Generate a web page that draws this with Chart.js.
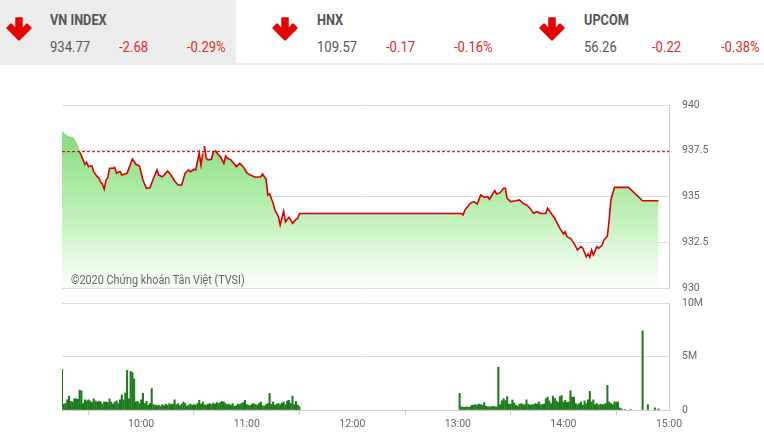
<!DOCTYPE html>
<html>
<head>
<meta charset="utf-8">
<script src="https://cdn.jsdelivr.net/npm/chart.js@4.4.1/dist/chart.umd.min.js"></script>
<style>
  body { margin: 0; width: 764px; height: 445px; background: #fff; font-family: Roboto, "Noto Sans", sans-serif; position: relative; overflow: hidden; }
  .panel { position: absolute; left: 0; top: 0; width: 236px; height: 63px; background: #ececec; }
  .sep { position: absolute; left: 0; top: 63px; width: 764px; height: 2px; background: #ededed; }
  .arrow { position: absolute; top: 17px; width: 26px; height: 24px; }
  .t { position: absolute; white-space: nowrap; transform-origin: left top; }
  .name { top: 13px; font-size: 15.5px; line-height: 15.5px; font-weight: bold; color: #555; transform: scaleX(0.82); }
  .val { top: 41px; font-size: 14.5px; line-height: 14.5px; color: #555; transform: scaleX(0.9); }
  .red { color: #dc2b2b; }
  .wm { position: absolute; left: 71px; top: 273px; font-size: 12px; line-height: 14px; color: #666; transform: scaleX(0.9); transform-origin: left top; }
  canvas { position: absolute; left: 0; }
</style>
</head>
<body>
<div class="panel"></div>
<div class="sep"></div>

<svg class="arrow" style="left:6px" viewBox="0 0 26 24"><path d="M10 1 H16 V12 L21 7 L25 11 L13 23 L1 11 L5 7 L10 12 Z" fill="#e60000" stroke="#e60000" stroke-width="1.5" stroke-linejoin="round"/></svg>
<svg class="arrow" style="left:272px" viewBox="0 0 26 24"><path d="M10 1 H16 V12 L21 7 L25 11 L13 23 L1 11 L5 7 L10 12 Z" fill="#e60000" stroke="#e60000" stroke-width="1.5" stroke-linejoin="round"/></svg>
<svg class="arrow" style="left:539px" viewBox="0 0 26 24"><path d="M10 1 H16 V12 L21 7 L25 11 L13 23 L1 11 L5 7 L10 12 Z" fill="#e60000" stroke="#e60000" stroke-width="1.5" stroke-linejoin="round"/></svg>

<div class="t name" style="left:50px">VN INDEX</div>
<div class="t val" style="left:50px">934.77</div>
<div class="t val red" style="left:119px">-2.68</div>
<div class="t val red" style="left:187px">-0.29%</div>

<div class="t name" style="left:317px">HNX</div>
<div class="t val" style="left:317px">109.57</div>
<div class="t val red" style="left:386px">-0.17</div>
<div class="t val red" style="left:454px">-0.16%</div>

<div class="t name" style="left:584px">UPCOM</div>
<div class="t val" style="left:584px">56.26</div>
<div class="t val red" style="left:652px">-0.22</div>
<div class="t val red" style="left:721px">-0.38%</div>

<canvas id="priceChart" width="764" height="200" style="top:95px"></canvas>
<canvas id="volChart" width="764" height="150" style="top:295px"></canvas>
<div class="wm">©2020 Chứng khoán Tân Việt (TVSI)</div>

<script>
// price line (VN-Index)
const priceTimes = [
  '9:15','9:18','9:21','9:23','9:25','9:26','9:28','9:29','9:30','9:32','9:33','9:35','9:36','9:37','9:38','9:39',
  '9:40','9:41','9:42','9:44','9:45','9:46','9:48','9:49','9:52','9:55','9:57','9:59',
  '10:01','10:03','10:05','10:07','10:09','10:10','10:12','10:13','10:15','10:17','10:19','10:21','10:23','10:25',
  '10:27','10:28','10:30','10:31','10:33','10:34','10:35','10:36','10:37','10:38','10:40','10:41','10:42','10:44',
  '10:45','10:46','10:47','10:48','10:49','10:51','10:53','10:54','10:56','10:58',
  '11:00','11:02','11:05','11:08','11:09','11:11','11:12','11:13','11:15','11:16','11:18','11:19','11:21','11:22',
  '11:24','11:25','11:26','11:28','11:29','11:30',
  '13:00','13:02','13:03','13:04','13:07','13:09','13:11','13:13','13:15','13:17','13:18','13:20','13:21','13:22',
  '13:24','13:26','13:27','13:28','13:30','13:33','13:35','13:37','13:39','13:41','13:43','13:45','13:47','13:50',
  '13:51','13:53','13:55','13:57','13:58',
  '14:00','14:01','14:02','14:04','14:06','14:08','14:10','14:11','14:13','14:14','14:15','14:16','14:17','14:19',
  '14:20','14:22','14:23','14:25','14:26','14:27','14:29','14:37','14:45','14:54'
];
const priceValues = [
  938.5,938.27,938.2,937.9,937.42,937.23,936.76,936.87,936.63,936.68,936.36,936.08,936.0,935.78,935.67,935.41,
  935.9,936.03,936.54,936.54,936.58,936.27,936.36,936.17,936.27,937.05,936.76,936.68,
  935.9,935.45,935.48,936.0,936.45,936.17,936.08,936.17,936.39,936.17,935.85,935.63,935.63,936.27,
  936.45,936.36,936.49,936.45,937.36,936.72,937.36,937.76,937.09,937.0,937.03,937.46,937.51,937.27,
  937.18,937.0,936.81,937.21,937.09,937.0,936.78,936.63,936.81,936.63,
  936.3,936.17,936.05,936.08,936.23,935.94,935.08,935.14,934.63,934.26,933.9,933.44,934.19,933.62,
  933.86,933.72,933.53,933.75,933.81,934.07,
  934.07,934.07,933.99,934.26,934.63,934.72,934.59,935.08,934.96,934.99,934.85,935.17,935.32,935.14,
  935.21,935.45,935.45,934.9,934.72,934.77,934.81,934.63,934.54,934.36,934.08,934.17,934.08,934.07,
  934.36,934.08,933.81,933.44,933.26,
  932.95,933.08,932.8,932.71,932.44,932.08,932.26,932.17,931.71,931.86,931.68,932.08,931.8,932.26,
  932.17,932.35,932.62,932.84,933.72,934.81,935.5,935.5,934.77,934.77
];
const refPrice = 937.45; // previous close

// volume in millions, one bar per minute
const volMorningStart = '9:15';
const volMorning = [
  3.8,0.55,0.6,0.95,1.3,0.8,0.75,1.05,1.05,1.0,
  1.85,1.8,0.6,0.95,0.85,0.95,0.85,0.7,1.05,0.85,
  0.75,0.8,0.75,0.55,0.75,0.75,0.7,1.05,0.75,0.55,
  0.75,0.85,0.6,0.95,1.4,0.95,1.6,3.7,1.05,3.6,
  3.5,2.9,0.75,0.8,0.6,0.95,1.55,0.6,0.8,0.45,
  0.6,2.0,0.5,0.45,0.4,0.45,0.35,0.5,0.4,0.55,
  0.45,0.6,0.5,0.55,0.95,0.5,0.6,0.4,0.55,0.75,
  0.6,0.35,0.45,0.55,0.45,0.5,0.45,0.6,0.9,0.55,
  0.75,0.5,0.45,0.55,0.6,0.5,0.65,0.55,0.7,0.6,
  0.7,0.8,0.75,0.6,0.5,0.55,0.45,0.6,0.35,0.4,
  0.55,0.5,0.6,0.7,0.9,0.5,0.45,0.4,0.55,0.6,
  0.5,0.45,0.6,0.75,0.4,0.35,0.5,0.6,1.55,0.55,
  0.75,0.45,0.55,0.6,0.5,0.65,0.75,0.5,0.85,0.9,
  0.6,1.3,0.5,0.8,0.45,0.3
];
const volAfternoonStart = '13:01';
const volAfternoon = [
  1.55,0.3,0.25,0.25,0.3,0.25,0.3,0.45,0.45,0.5,
  0.45,0.55,0.5,0.45,0.7,0.35,0.3,0.3,0.3,0.35,
  0.3,0.3,4.0,0.5,0.87,1.06,0.87,1.25,0.55,0.55,
  0.93,0.65,0.45,0.35,0.55,0.6,0.5,0.5,0.95,0.55,
  0.45,0.5,0.5,0.6,0.55,0.75,0.5,0.5,0.55,1.05,
  1.2,0.85,0.6,1.3,1.1,0.85,0.7,1.25,1.35,0.75,
  0.9,0.7,0.75,1.8,1.2,1.2,0.6,0.5,0.6,0.75,
  0.45,0.85,0.6,0.95,1.75,0.75,0.95,0.5,0.6,0.45,
  0.55,0.5,0.5,0.6,2.3,0.75,0.6,0.5,0.75,0.75,
  0.75,0.2,0.1
];
const volLateTimes = ['14:35','14:38','14:45','14:48','14:52','14:54'];
const volLate = [0.05,0.05,7.4,0.5,0.2,0.1];

const xTicks = ['10:00','11:00','12:00','13:00','14:00','15:00'];
const priceTicks = [930, 932.5, 935, 937.5, 940];
const volTicks = [0, 5, 10];
const xStart = '9:15', xEnd = '15:00';

function toMin(s) {
  const p = s.split(':');
  return parseInt(p[0]) * 60 + parseInt(p[1]);
}
function fmtMin(m) {
  const h = Math.floor(m / 60), mm = m % 60;
  return (h < 10 ? '0' : '') + h + ':' + (mm < 10 ? '0' : '') + mm;
}

const pricePts = priceTimes.map((t, i) => ({ x: toMin(t), y: priceValues[i] }));
const volPts = [];
volMorning.forEach((v, i) => volPts.push({ x: toMin(volMorningStart) + i, y: v }));
volAfternoon.forEach((v, i) => volPts.push({ x: toMin(volAfternoonStart) + i, y: v }));
volLate.forEach((v, i) => volPts.push({ x: toMin(volLateTimes[i]), y: v }));

const font = { family: 'Roboto', size: 10.5 };
const RED = '#d60000';
const GREEN_LINE = 'rgb(135,215,125)';

// right axis: fixed width, no extra vertical padding from tick padding
function fitRight(s) {
  s.width = 95;
  s.paddingTop = 0;
  s.paddingBottom = 0;
}

// price chart
new Chart(document.getElementById('priceChart').getContext('2d'), {
  type: 'line',
  data: {
    datasets: [
      {
        // reference line (previous close)
        data: [{ x: toMin(xStart), y: refPrice }, { x: toMin(xEnd), y: refPrice }],
        borderColor: '#b40000',
        borderWidth: 1,
        borderDash: [3, 2],
        pointRadius: 0,
        fill: false,
        order: 0
      },
      {
        data: pricePts,
        borderWidth: 1.6,
        borderColor: RED,
        pointRadius: 0,
        tension: 0,
        fill: false,
        order: 1,
        segment: {
          borderColor: c => (c.p0.parsed.y + c.p1.parsed.y) / 2 > refPrice ? GREEN_LINE : RED
        }
      },
      {
        // area under the index
        data: pricePts,
        borderWidth: 0,
        pointRadius: 0,
        tension: 0,
        fill: 'start',
        order: 2,
        backgroundColor: c => {
          const a = c.chart.chartArea;
          if (!a) return 'rgba(0,0,0,0)';
          const g = c.chart.ctx.createLinearGradient(0, a.top, 0, a.bottom);
          g.addColorStop(0, 'rgb(118,212,108)');
          g.addColorStop(0.5, 'rgb(178,236,170)');
          g.addColorStop(1, 'rgb(252,255,252)');
          return g;
        }
      }
    ]
  },
  options: {
    responsive: false,
    animation: false,
    layout: { padding: { left: 62, top: 10, bottom: 7, right: 0 } },
    plugins: { legend: { display: false }, tooltip: { enabled: false } },
    scales: {
      x: { type: 'linear', display: false, min: toMin(xStart), max: toMin(xEnd) },
      y: {
        position: 'right',
        min: priceTicks[0],
        max: priceTicks[priceTicks.length - 1],
        afterBuildTicks: s => { s.ticks = priceTicks.map(v => ({ value: v })); },
        afterFit: fitRight,
        grid: { color: '#dddddd', drawTicks: false },
        border: { display: true, color: '#cccccc' },
        ticks: { padding: 13, color: '#666', font: font, callback: v => String(v) }
      }
    }
  }
});

// volume chart
new Chart(document.getElementById('volChart').getContext('2d'), {
  type: 'bar',
  data: {
    datasets: [{
      data: volPts,
      backgroundColor: '#1d7a1d',
      barThickness: 1.4
    }]
  },
  options: {
    responsive: false,
    animation: false,
    layout: { padding: { left: 62, top: 8, bottom: 0, right: 0 } },
    plugins: { legend: { display: false }, tooltip: { enabled: false } },
    scales: {
      x: {
        type: 'linear',
        min: toMin(xStart),
        max: toMin(xEnd),
        offset: false,
        afterBuildTicks: s => { s.ticks = xTicks.map(t => ({ value: toMin(t) })); },
        afterFit: s => { s.height = 35; },
        grid: { drawOnChartArea: false, drawTicks: true, tickLength: 5, color: '#cccccc' },
        border: { display: true, color: '#cccccc' },
        ticks: { padding: 3, color: '#666', font: font, maxRotation: 0, autoSkip: false, callback: v => fmtMin(v) }
      },
      y: {
        position: 'right',
        min: volTicks[0],
        max: volTicks[volTicks.length - 1],
        afterBuildTicks: s => { s.ticks = volTicks.map(v => ({ value: v })); },
        afterFit: fitRight,
        grid: { color: '#dddddd', drawTicks: false },
        border: { display: true, color: '#cccccc' },
        ticks: { padding: 13, color: '#666', font: font, callback: v => v === 0 ? '0' : v + 'M' }
      }
    }
  }
});
</script>
</body>
</html>
